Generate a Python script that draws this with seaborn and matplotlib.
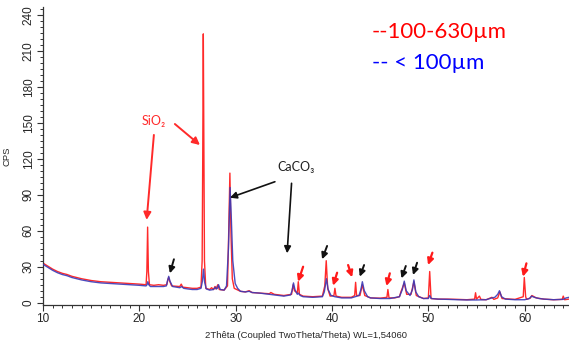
import matplotlib
matplotlib.use("Agg")
import matplotlib.pyplot as plt
import pandas as pd
import seaborn as sns
from matplotlib.ticker import MultipleLocator

# ---- data (2Theta in degrees, intensity in CPS) ----
red_2theta = [10.0, 10.5, 11.0, 11.5, 12.0, 12.5, 13.0, 13.5, 14.0, 15.0, 16.0, 17.0, 18.0, 19.0, 20.0,
              20.7, 20.78, 20.86, 20.94, 21.05, 21.5, 22.0, 22.5, 22.85, 22.95, 23.05, 23.15, 23.35,
              24.2, 24.35, 24.5, 25.0, 25.5, 26.0, 26.4, 26.52, 26.58, 26.64, 26.7, 26.76, 26.9,
              27.3, 27.5, 27.7, 27.85, 27.95, 28.15, 28.3, 28.8, 29.15, 29.28, 29.4, 29.52, 29.65, 29.85,
              30.5, 31.0, 31.4, 31.7, 32.5, 33.5, 33.65, 34.0, 35.0, 35.8, 35.97, 36.1, 36.4, 36.5, 36.62,
              37.0, 38.0, 39.0, 39.25, 39.4, 39.55, 39.8, 40.2, 40.3, 40.42, 41.0, 42.0, 42.35, 42.45,
              42.55, 42.9, 43.15, 43.4, 44.0, 45.0, 45.7, 45.8, 45.92, 46.5, 47.0, 47.15, 47.5, 47.75,
              48.2, 48.5, 48.75, 49.5, 50.0, 50.14, 50.28, 51.0, 52.0, 53.0, 54.0, 54.8, 54.9, 55.0,
              55.3, 55.45, 56.0, 56.6, 56.8, 57.2, 57.42, 57.65, 58.5, 59.0, 59.85, 59.96, 60.1, 60.2,
              60.6, 60.75, 61.2, 62.0, 63.0, 63.9, 64.0, 64.15, 64.6]
red_cps = [33, 30.5, 28, 26, 24.5, 23.5, 22, 21, 20, 18.5, 17.5, 17, 16.5, 16, 15.5,
           15, 26, 63, 26, 15, 14.5, 15, 14.5, 15, 19, 21, 18, 14,
           13.5, 15.5, 13, 12.5, 12, 12, 13, 35, 120, 224, 120, 35, 12,
           11, 12.5, 11, 13.5, 11.5, 15, 11, 10.5, 14, 60, 108, 55, 20, 12,
           9.5, 9, 10, 8.5, 8, 7.5, 8.5, 7, 6, 7, 15, 10, 8, 17.5, 7,
           5.5, 5, 5.5, 14, 35, 12, 5.5, 6, 12, 5.5, 4.5, 4.5, 6, 17,
           6, 6, 15, 6, 4, 3.8, 4.5, 11, 4, 4, 5, 9, 16.5, 7,
           7, 17.5, 6, 3.5, 4, 26, 3.5, 3, 3, 2.8, 2.5, 3, 8.3, 3,
           5.5, 2.8, 2.5, 4.5, 2.8, 4, 9, 3.5, 3, 2.8, 5, 21, 5, 2.8,
           4, 6, 4, 3, 2.5, 2.8, 5.5, 2.5, 3]

blue_2theta = [10.0, 10.5, 11.0, 11.5, 12.0, 12.5, 13.0, 13.5, 14.0, 15.0, 16.0, 17.0, 18.0, 19.0, 20.0,
               20.7, 20.8, 20.88, 20.98, 21.15, 21.5, 22.0, 22.5, 22.8, 22.95, 23.05, 23.18, 23.45,
               24.2, 24.4, 24.6, 25.0, 25.5, 26.0, 26.4, 26.55, 26.66, 26.78, 26.95,
               27.3, 27.7, 27.9, 28.0, 28.1, 28.22, 28.4, 28.8, 29.05, 29.25, 29.42, 29.55, 29.7, 29.95, 30.2,
               30.5, 31.0, 31.4, 31.7, 32.5, 33.5, 34.0, 35.0, 35.7, 35.85, 36.0, 36.15, 36.4, 36.5, 36.7,
               37.0, 38.0, 39.0, 39.2, 39.42, 39.6, 39.9, 40.3, 41.0, 42.0, 42.8, 43.0, 43.15, 43.35, 43.7,
               44.0, 45.0, 46.0, 47.0, 47.3, 47.5, 47.7, 48.1, 48.35, 48.5, 48.7, 49.0, 49.5, 50.0, 50.14, 50.3,
               51.0, 52.0, 53.0, 54.0, 55.0, 56.0, 56.6, 56.9, 57.2, 57.38, 57.6, 58.0, 59.0, 60.0,
               60.5, 60.7, 61.0, 61.5, 62.0, 63.0, 64.0, 64.3, 64.6]
blue_cps = [32, 29.5, 27, 25, 23.5, 22.5, 21, 20, 19, 17.5, 16.5, 16, 15.5, 15, 14.5,
            14, 15, 17.5, 15, 13.5, 13.5, 13.5, 13.5, 14, 19, 22, 18, 13.5,
            12.5, 13.5, 12, 11.5, 11, 11, 12, 18, 28, 17, 11.5,
            10.5, 11, 13, 11.5, 12, 15, 11, 10.5, 14, 45, 96, 70, 35, 16, 12,
            9.5, 9, 9.5, 8.5, 8, 7, 6.5, 5.5, 6.5, 10, 16.5, 11, 7, 8, 6,
            5, 4.5, 5, 9, 20, 11, 6, 5, 4, 4, 6, 11, 17.5, 10, 5,
            4, 3.5, 3.5, 5, 11, 18, 10, 6, 11, 19, 9, 5, 3.5, 3.5, 6, 3.5,
            3, 2.8, 2.5, 2.3, 2.3, 2.5, 4, 4.5, 7, 10, 5, 3, 2.5, 2.5,
            3.5, 5.5, 4.5, 3.5, 3, 2.5, 2.8, 4, 4.5]

# annotation data: (tip 2Theta, tip CPS, tail 2Theta, tail CPS)
sio2_arrows = [(20.76, 69.0, 21.51, 139.8), (26.29, 131.4, 23.69, 148.9)]
caco3_arrows = [(29.40, 87.5, 34.07, 100.8), (35.34, 41.2, 35.80, 99.5)]
black_marks = [(23.17, 24.5, 23.59, 36.2), (38.97, 36.2, 39.49, 47.3), (42.88, 21.7, 43.33, 31.4),
               (47.21, 20.3, 47.66, 30.6), (48.41, 23.1, 48.83, 33.3)]
red_marks = [(36.48, 17.5, 37.0, 30.0), (40.11, 14.2, 40.53, 25.0), (42.09, 21.2, 41.67, 31.4),
             (45.65, 13.9, 46.0, 24.5), (49.97, 31.4, 50.42, 41.7), (59.82, 21.7, 60.18, 32.8)]

sns.set_style("ticks")
plt.rcParams['font.family'] = ['Liberation Sans', 'DejaVu Sans']

fig = plt.figure(figsize=(5.69, 3.41), dpi=100)
ax = fig.add_axes([43 / 569, 36 / 341, 526 / 569, 298 / 341])

df_red = pd.DataFrame({"2theta": red_2theta, "cps": red_cps})
df_blue = pd.DataFrame({"2theta": blue_2theta, "cps": blue_cps})
sns.lineplot(data=df_red, x="2theta", y="cps", estimator=None, color="#ff2a2a", lw=1.0, ax=ax, zorder=2)
sns.lineplot(data=df_blue, x="2theta", y="cps", estimator=None, color="#3a3ab8", lw=1.0, alpha=0.9,
             ax=ax, zorder=3)

ax.set_xlim(10, 64.6)
ax.set_ylim(-1.9, 246.4)
ax.xaxis.set_major_locator(MultipleLocator(10))
ax.xaxis.set_minor_locator(MultipleLocator(1))
ax.yaxis.set_major_locator(MultipleLocator(30))
ax.yaxis.set_minor_locator(MultipleLocator(5))
ax.tick_params(which="major", length=4, width=0.8, color="#333333", labelsize=8.5, pad=2)
ax.tick_params(which="minor", length=2, width=0.7, color="#333333")
ax.tick_params(axis="y", labelrotation=90)
for lab in ax.get_yticklabels():
    lab.set_va("center")
sns.despine(ax=ax)
for s in ("left", "bottom"):
    ax.spines[s].set_linewidth(0.9)
    ax.spines[s].set_color("#333333")

ax.set_xlabel("2Thêta (Coupled TwoTheta/Theta) WL=1,54060", fontsize=6.8, labelpad=4)
ax.set_ylabel("CPS", fontsize=6.8, labelpad=8)

lbl_font = ['Lato', 'DejaVu Sans']
ax.text(21.46, 151.7, "SiO₂", color="#ff2a2a", fontsize=9, family=lbl_font, ha="center", va="center")
ax.text(36.24, 113.3, "CaCO₃", color="#222222", fontsize=9, family=lbl_font, ha="center", va="center")

for tx, ty, sx, sy in sio2_arrows:
    ax.annotate("", xy=(tx, ty), xytext=(sx, sy),
                arrowprops=dict(arrowstyle="-|>", color="#ff2a2a", lw=1.4, mutation_scale=11, shrinkA=0, shrinkB=0))
for tx, ty, sx, sy in caco3_arrows:
    ax.annotate("", xy=(tx, ty), xytext=(sx, sy),
                arrowprops=dict(arrowstyle="-|>", color="#111111", lw=1.2, mutation_scale=10, shrinkA=0, shrinkB=0))
for tx, ty, sx, sy in black_marks:
    ax.annotate("", xy=(tx, ty), xytext=(sx, sy),
                arrowprops=dict(arrowstyle="-|>", color="#111111", lw=1.4, mutation_scale=9, shrinkA=0, shrinkB=0))
for tx, ty, sx, sy in red_marks:
    ax.annotate("", xy=(tx, ty), xytext=(sx, sy),
                arrowprops=dict(arrowstyle="-|>", color="#ff1a1a", lw=1.6, mutation_scale=9, shrinkA=0, shrinkB=0))

fig.text(372 / 569, 1 - 32 / 341, "--100-630µm", color="#ff0000", fontsize=16, family=lbl_font,
         ha="left", va="center")
fig.text(372 / 569, 1 - 63 / 341, "-- < 100µm", color="#0000ff", fontsize=16, family=lbl_font,
         ha="left", va="center")

fig.savefig("out.png", dpi=100)
